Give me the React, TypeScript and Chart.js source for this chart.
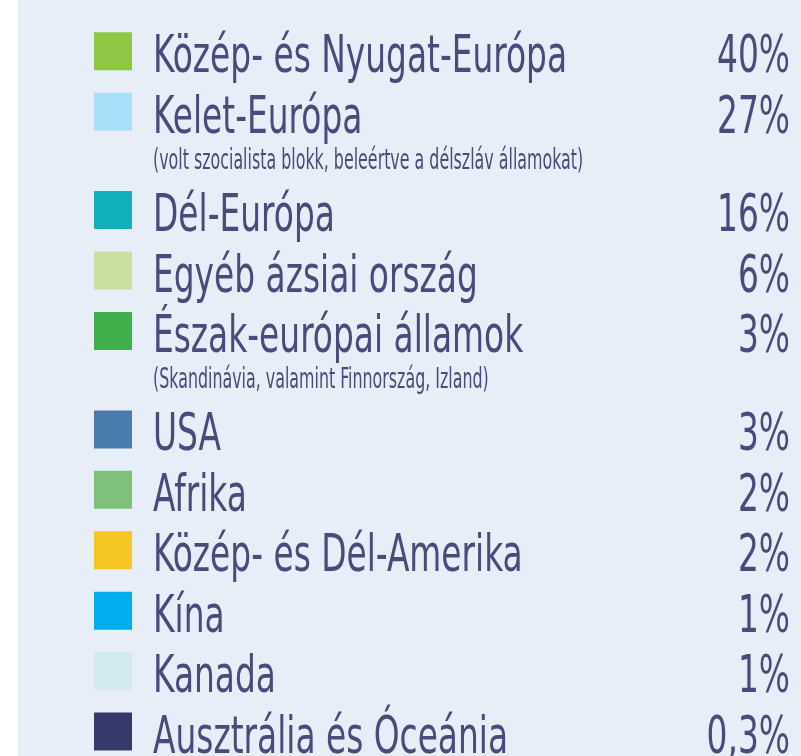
import React, { useEffect, useRef } from "react";
import { Chart, registerables } from "chart.js";

Chart.register(...registerables);

const regions = [
  "Közép- és Nyugat-Európa",
  "Kelet-Európa",
  "Dél-Európa",
  "Egyéb ázsiai ország",
  "Észak-európai államok",
  "USA",
  "Afrika",
  "Közép- és Dél-Amerika",
  "Kína",
  "Kanada",
  "Ausztrália és Óceánia",
];

const subLabels = [
  "",
  "(volt szocialista blokk, beleértve a délszláv államokat)",
  "",
  "",
  "(Skandinávia, valamint Finnország, Izland)",
  "",
  "",
  "",
  "",
  "",
  "",
];

const shares = [40, 27, 16, 6, 3, 3, 2, 2, 1, 1, 0.3];

const colors = [
  "#8FC744",
  "#A9DFF9",
  "#11B0BA",
  "#C9E0A3",
  "#40AE4A",
  "#4A7BAD",
  "#7FC07A",
  "#F4C623",
  "#00AEEF",
  "#D3EBEE",
  "#363A6B",
];

const TEXT_COLOR = "#4B4A7C";
const BG = "#E8EEF8";
const FONT = "'Liberation Sans Narrow', 'DejaVu Sans Condensed', sans-serif";
const SX_MAIN = 0.716;
const SX_SUB = 0.63;

function rowPositions(): number[] {
  const out: number[] = [];
  let y = 0;
  subLabels.forEach((s) => {
    out.push(y);
    y += 1 + (s ? 0.63 : 0);
  });
  return out;
}

const bgPlugin = {
  id: "bgPlugin",
  beforeDraw(chart: any) {
    const { ctx, width, height } = chart;
    ctx.save();
    ctx.fillStyle = "#ffffff";
    ctx.fillRect(0, 0, width, height);
    ctx.fillStyle = BG;
    ctx.fillRect(18, 0, width - 18, height);
    ctx.restore();
  },
};

function drawScaled(
  ctx: CanvasRenderingContext2D,
  text: string,
  x: number,
  y: number,
  font: string,
  align: CanvasTextAlign,
  sx: number
) {
  ctx.save();
  ctx.translate(x, y);
  ctx.scale(sx, 1);
  ctx.font = font;
  ctx.textAlign = align;
  ctx.textBaseline = "alphabetic";
  ctx.fillStyle = TEXT_COLOR;
  ctx.fillText(text, 0, 0);
  ctx.restore();
}

const labelPlugin = {
  id: "labelPlugin",
  afterDatasetsDraw(chart: any) {
    const { ctx } = chart;
    const meta = chart.getDatasetMeta(0);
    const xRight = chart.scales.x.getPixelForValue(1);
    meta.data.forEach((el: any, i: number) => {
      const x = el.x;
      const y = el.y;
      drawScaled(ctx, regions[i], x + 40, y + 21, `51px ${FONT}`, "left", SX_MAIN);
      if (subLabels[i]) {
        drawScaled(ctx, subLabels[i], x + 40, y + 57, `28px ${FONT}`, "left", SX_SUB);
      }
      const pct = String(shares[i]).replace(".", ",") + "%";
      drawScaled(ctx, pct, xRight, y + 21, `51px ${FONT}`, "right", SX_MAIN);
    });
  },
};

export default function App() {
  const ref = useRef<HTMLCanvasElement | null>(null);
  useEffect(() => {
    if (!ref.current) return;
    const ys = rowPositions();
    const chart = new Chart(ref.current, {
      type: "scatter",
      data: {
        labels: regions,
        datasets: [
          {
            label: "Arány",
            data: shares.map((_, i) => ({ x: 0, y: ys[i] })),
            pointStyle: "rect",
            pointRadius: 26.87,
            pointHoverRadius: 26.87,
            pointBackgroundColor: colors,
            pointBorderWidth: 0,
            borderWidth: 0,
            clip: false as any,
          },
        ],
      },
      options: {
        responsive: false,
        animation: false,
        devicePixelRatio: 1,
        layout: { autoPadding: false, padding: { left: 113, right: 11, top: 21, bottom: 10 } },
        plugins: { legend: { display: false }, tooltip: { enabled: false } },
        events: [],
        scales: {
          x: { type: "linear", display: false, min: 0, max: 1 },
          y: { type: "linear", display: false, reverse: true, min: -0.5, max: 11.5 },
        },
      },
      plugins: [bgPlugin, labelPlugin],
    });
    return () => chart.destroy();
  }, []);
  return (
    <div style={{ position: "absolute", left: 0, top: 0, width: 801, height: 756 }}>
      <canvas ref={ref} width={801} height={756} style={{ display: "block" }} />
    </div>
  );
}
